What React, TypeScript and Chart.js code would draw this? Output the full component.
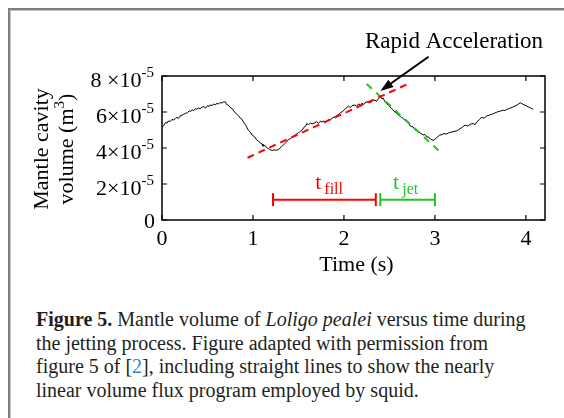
import React, { useEffect, useRef } from 'react';
import { Chart, registerables } from 'chart.js';

Chart.register(...registerables);

// ---- data (time in s, mantle cavity volume in units of 1e-5 m^3) ----
const timeS = [
  0.0, 0.02, 0.04, 0.055, 0.07, 0.09, 0.11, 0.13, 0.15, 0.165, 0.18, 0.2, 0.22, 0.24, 0.26, 0.28, 0.3, 0.31, 0.33, 0.35,
  0.37, 0.38, 0.4, 0.42, 0.44, 0.46, 0.48, 0.5, 0.52, 0.53, 0.55, 0.57, 0.59, 0.6, 0.62, 0.64, 0.66, 0.68, 0.7, 0.71,
  0.73, 0.75, 0.77, 0.79, 0.82, 0.84, 0.86, 0.88, 0.9, 0.92, 0.93, 0.95, 0.97, 0.99, 1.02, 1.04, 1.06, 1.08, 1.1, 1.11,
  1.13, 1.15, 1.17, 1.19, 1.21, 1.23, 1.25, 1.28, 1.31, 1.33, 1.35, 1.37, 1.39, 1.41, 1.44, 1.46, 1.48, 1.5, 1.52, 1.54,
  1.56, 1.58, 1.59, 1.61, 1.63, 1.65, 1.68, 1.7, 1.72, 1.74, 1.76, 1.78, 1.8, 1.83, 1.85, 1.87, 1.9, 1.92, 1.94, 1.96,
  1.98, 2.0, 2.02, 2.05, 2.07, 2.09, 2.12, 2.14, 2.16, 2.18, 2.2, 2.22, 2.24, 2.27, 2.29, 2.31, 2.34, 2.36, 2.38, 2.4,
  2.42, 2.43, 2.45, 2.47, 2.49, 2.52, 2.54, 2.56, 2.58, 2.6, 2.62, 2.64, 2.67, 2.69, 2.71, 2.73, 2.76, 2.78, 2.8, 2.82,
  2.85, 2.87, 2.89, 2.91, 2.93, 2.95, 2.98, 3.0, 3.02, 3.05, 3.08, 3.1, 3.13, 3.15, 3.18, 3.21, 3.24, 3.27, 3.3, 3.33,
  3.36, 3.39, 3.42, 3.44, 3.46, 3.49, 3.51, 3.54, 3.57, 3.6, 3.63, 3.66, 3.69, 3.72, 3.75, 3.77, 3.79, 3.82, 3.85, 3.88,
  3.9, 3.92, 3.94, 3.96, 3.98, 4.01, 4.04, 4.06, 4.08,
];
const volumeE5 = [
  5.17, 5.25, 5.42, 5.38, 5.5, 5.47, 5.59, 5.55, 5.66, 5.7, 5.64, 5.78, 5.82, 5.88, 5.93, 5.96, 6.07, 6.01, 6.12, 6.08,
  6.2, 6.14, 6.22, 6.18, 6.27, 6.29, 6.22, 6.35, 6.31, 6.39, 6.36, 6.44, 6.4, 6.48, 6.45, 6.52, 6.5, 6.57, 6.55, 6.42,
  6.38, 6.25, 6.2, 6.05, 5.88, 5.8, 5.66, 5.59, 5.4, 5.27, 5.17, 4.98, 4.89, 4.72, 4.61, 4.45, 4.38, 4.28, 4.22, 4.1,
  4.15, 4.02, 3.96, 3.91, 3.86, 3.9, 3.87, 3.91, 4.05, 4.15, 4.24, 4.35, 4.47, 4.52, 4.66, 4.71, 4.78, 4.85, 4.92, 4.99,
  5.15, 5.22, 5.36, 5.3, 5.38, 5.34, 5.4, 5.46, 5.38, 5.48, 5.45, 5.5, 5.44, 5.59, 5.55, 5.66, 5.73, 5.8, 5.86, 5.95,
  6.01, 6.1, 6.2, 6.33, 6.25, 6.36, 6.39, 6.32, 6.45, 6.4, 6.48, 6.42, 6.55, 6.57, 6.5, 6.62, 6.66, 6.6, 6.75, 6.85,
  6.72, 6.78, 6.57, 6.45, 6.38, 6.2, 6.12, 6.0, 5.92, 5.83, 5.75, 5.68, 5.55, 5.45, 5.38, 5.22, 5.17, 5.02, 4.95, 4.89,
  4.8, 4.72, 4.75, 4.62, 4.61, 4.5, 4.43, 4.48, 4.58, 4.71, 4.75, 4.8, 4.78, 4.84, 4.88, 4.92, 4.95, 5.05, 5.15, 5.27,
  5.22, 5.32, 5.36, 5.3, 5.45, 5.58, 5.7, 5.66, 5.78, 5.83, 5.88, 5.95, 6.01, 6.05, 6.1, 6.08, 6.15, 6.2, 6.26, 6.33,
  6.38, 6.45, 6.51, 6.45, 6.4, 6.33, 6.25, 6.2, 6.15,
];

const fillFitT = [0.94, 2.72];
const fillFitV = [3.46, 7.6];
const jetFitT = [2.25, 3.07];
const jetFitV = [7.56, 3.72];
const fillBarT = [1.22, 2.35];
const jetBarT = [2.4, 3.0];
const barV = [1.13, 1.13];
const arrowT = [2.93, 2.4];
const arrowV = [9.07, 7.17];

const xTickVals = [0, 1, 2, 3, 4];
const xTickLabels = ['0', '1', '2', '3', '4'];
const yTickVals = [0, 2, 4, 6, 8];
const yTickMantissa = ['0', '2×10', '4×10', '6×10', '8 ×10'];
const yTickExp = ['', '-5', '-5', '-5', '-5'];

const xTitle = 'Time (s)';
const yTitleLine1 = 'Mantle cavity';
const yTitleLine2 = ['volume (m', '3', ')'];
const noteText = 'Rapid Acceleration';
const notePos = [3.21, 9.56];
const fillLabel = ['t', 'fill'];
const fillLabelPos = [1.684, 1.75];
const jetLabel = ['t', 'jet'];
const jetLabelPos = [2.54, 1.75];

const RED = '#ff0000';
const GREEN = '#22c322';
const SERIF = '"Liberation Serif", "Times New Roman", serif';

const decorPlugin = {
  id: 'figureDecor',
  afterDraw(chart: any) {
    const { ctx, chartArea: a } = chart;
    const x = chart.scales.x;
    const y = chart.scales.y;
    ctx.save();
    // axes box
    ctx.strokeStyle = '#000';
    ctx.lineWidth = 1.5;
    ctx.strokeRect(a.left, a.top, a.right - a.left, a.bottom - a.top);
    // inward ticks
    ctx.lineWidth = 1.2;
    ctx.beginPath();
    xTickVals.forEach((v) => {
      const px = x.getPixelForValue(v);
      ctx.moveTo(px, a.bottom);
      ctx.lineTo(px, a.bottom - 5);
      ctx.moveTo(px, a.top);
      ctx.lineTo(px, a.top + 5);
    });
    yTickVals.forEach((v) => {
      const py = y.getPixelForValue(v);
      ctx.moveTo(a.left, py);
      ctx.lineTo(a.left + 5, py);
      ctx.moveTo(a.right, py);
      ctx.lineTo(a.right - 5, py);
    });
    ctx.stroke();

    ctx.fillStyle = '#000';
    ctx.textBaseline = 'alphabetic';
    // x tick labels
    ctx.font = `22px ${SERIF}`;
    ctx.textAlign = 'center';
    xTickVals.forEach((v, i) => {
      ctx.fillText(xTickLabels[i], x.getPixelForValue(v), a.bottom + 25);
    });
    // y tick labels
    const rightEdge = a.left - 8;
    ctx.textAlign = 'right';
    yTickVals.forEach((v, i) => {
      const py = y.getPixelForValue(v);
      if (yTickExp[i]) {
        ctx.font = `15px ${SERIF}`;
        const w = ctx.measureText(yTickExp[i]).width;
        ctx.fillText(yTickExp[i], rightEdge, py + 1);
        ctx.font = `22px ${SERIF}`;
        ctx.fillText(yTickMantissa[i], rightEdge - w, py + 11);
      } else {
        ctx.font = `22px ${SERIF}`;
        ctx.fillText(yTickMantissa[i], rightEdge + 1, py + 7.5);
      }
    });

    // x title
    ctx.font = `22px ${SERIF}`;
    ctx.textAlign = 'center';
    ctx.fillText(xTitle, (a.left + a.right) / 2 + 3, a.bottom + 51);

    // y title (two lines, rotated)
    ctx.save();
    ctx.translate(0, (a.top + a.bottom) / 2 + 1);
    ctx.rotate(-Math.PI / 2);
    ctx.textAlign = 'center';
    ctx.font = `22px ${SERIF}`;
    ctx.fillText(yTitleLine1, 0, 48);
    const wA = ctx.measureText(yTitleLine2[0]).width;
    const wC = ctx.measureText(yTitleLine2[2]).width;
    ctx.font = `15px ${SERIF}`;
    const wB = ctx.measureText(yTitleLine2[1]).width;
    const total = wA + wB + wC;
    let sx = -total / 2;
    ctx.textAlign = 'left';
    ctx.font = `22px ${SERIF}`;
    ctx.fillText(yTitleLine2[0], sx, 72.5);
    sx += wA;
    ctx.font = `15px ${SERIF}`;
    ctx.fillText(yTitleLine2[1], sx, 64);
    sx += wB;
    ctx.font = `22px ${SERIF}`;
    ctx.fillText(yTitleLine2[2], sx, 72.5);
    ctx.restore();

    // arrow
    const tx = x.getPixelForValue(arrowT[0]);
    const ty = y.getPixelForValue(arrowV[0]);
    const hx = x.getPixelForValue(arrowT[1]);
    const hy = y.getPixelForValue(arrowV[1]);
    const ang = Math.atan2(hy - ty, hx - tx);
    const hl = 13;
    const hw = 4.5;
    ctx.strokeStyle = '#000';
    ctx.lineWidth = 2;
    ctx.beginPath();
    ctx.moveTo(tx, ty);
    ctx.lineTo(hx - Math.cos(ang) * (hl - 1), hy - Math.sin(ang) * (hl - 1));
    ctx.stroke();
    ctx.beginPath();
    ctx.moveTo(hx, hy);
    const bx = hx - Math.cos(ang) * hl;
    const by = hy - Math.sin(ang) * hl;
    ctx.lineTo(bx + Math.sin(ang) * hw, by - Math.cos(ang) * hw);
    ctx.lineTo(bx - Math.sin(ang) * hw, by + Math.cos(ang) * hw);
    ctx.closePath();
    ctx.fillStyle = '#000';
    ctx.fill();

    // annotation text
    ctx.font = `23px ${SERIF}`;
    ctx.textAlign = 'center';
    ctx.fillText(noteText, x.getPixelForValue(notePos[0]), y.getPixelForValue(notePos[1]));

    const drawSubLabel = (parts: string[], pos: number[], color: string) => {
      const lx = x.getPixelForValue(pos[0]);
      const ly = y.getPixelForValue(pos[1]);
      ctx.fillStyle = color;
      ctx.textAlign = 'left';
      ctx.font = `22px ${SERIF}`;
      ctx.fillText(parts[0], lx, ly);
      const w = ctx.measureText(parts[0]).width;
      ctx.font = `16px ${SERIF}`;
      ctx.fillText(parts[1], lx + w + 3, ly + 5);
    };
    drawSubLabel(fillLabel, fillLabelPos, RED);
    drawSubLabel(jetLabel, jetLabelPos, GREEN);

    ctx.restore();
  },
};

function toPoints(xs: number[], ys: number[]) {
  return xs.map((t, i) => ({ x: t, y: ys[i] }));
}

export default function App() {
  const canvasRef = useRef<HTMLCanvasElement | null>(null);

  useEffect(() => {
    const canvas = canvasRef.current;
    if (!canvas) return;
    const chart = new Chart(canvas, {
      type: 'scatter',
      data: {
        datasets: [
          {
            data: toPoints(fillFitT, fillFitV),
            showLine: true,
            borderColor: RED,
            borderWidth: 2,
            borderDash: [7, 5],
            pointRadius: 0,
          },
          {
            data: toPoints(jetFitT, jetFitV),
            showLine: true,
            borderColor: GREEN,
            borderWidth: 2,
            borderDash: [7, 6],
            pointRadius: 0,
          },
          {
            data: toPoints(timeS, volumeE5),
            showLine: true,
            borderColor: '#000',
            borderWidth: 1,
            pointRadius: 0,
            tension: 0,
          },
          {
            data: toPoints(fillBarT, barV),
            showLine: true,
            borderColor: RED,
            borderWidth: 2,
            pointStyle: 'line',
            rotation: 90,
            pointRadius: 6.5,
            pointBorderWidth: 2,
            pointBorderColor: RED,
          },
          {
            data: toPoints(jetBarT, barV),
            showLine: true,
            borderColor: GREEN,
            borderWidth: 2,
            pointStyle: 'line',
            rotation: 90,
            pointRadius: 6.5,
            pointBorderWidth: 2,
            pointBorderColor: GREEN,
          },
        ],
      },
      options: {
        animation: false,
        responsive: false,
        maintainAspectRatio: false,
        events: [],
        layout: { padding: { left: 0, right: 19, top: 76, bottom: 0 } },
        plugins: { legend: { display: false }, tooltip: { enabled: false } },
        scales: {
          x: {
            type: 'linear',
            min: 0,
            max: 4.21,
            ticks: { display: false },
            grid: { display: false },
            border: { display: false },
            afterBuildTicks: (s: any) => {
              s.ticks = xTickVals.map((v) => ({ value: v }));
            },
            afterFit: (s: any) => {
              s.height = 80;
            },
          },
          y: {
            type: 'linear',
            min: 0,
            max: 8,
            ticks: { display: false },
            grid: { display: false },
            border: { display: false },
            afterBuildTicks: (s: any) => {
              s.ticks = yTickVals.map((v) => ({ value: v }));
            },
            afterFit: (s: any) => {
              s.width = 162;
            },
          },
        },
      },
      plugins: [decorPlugin],
    } as any);
    return () => chart.destroy();
  }, []);

  return (
    <div style={{ position: 'absolute', left: 0, top: 0, width: 564, height: 418, overflow: 'hidden', background: '#fff' }}>
      <div
        style={{
          position: 'absolute',
          left: 8,
          top: 8,
          width: 700,
          height: 600,
          borderLeft: '2px solid #7f7f7f',
          borderTop: '2px solid #7f7f7f',
          boxShadow: 'inset 1px 1px 0 #c4c4c4',
        }}
      />
      <canvas
        ref={canvasRef}
        width={564}
        height={300}
        style={{ position: 'absolute', left: 0, top: 0, width: 564, height: 300 }}
      />
      <div
        style={{
          position: 'absolute',
          left: 36,
          top: 308,
          fontFamily: SERIF,
          fontSize: 20,
          lineHeight: '23.7px',
          color: '#231f20',
          whiteSpace: 'nowrap',
        }}
      >
        <b>Figure 5.</b> Mantle volume of <i>Loligo pealei</i> versus time during
        <br />
        the jetting process. Figure adapted with permission from
        <br />
        figure 5 of [<span style={{ color: '#2a8ac0' }}>2</span>], including straight lines to show the nearly
        <br />
        linear volume flux program employed by squid.
      </div>
    </div>
  );
}
